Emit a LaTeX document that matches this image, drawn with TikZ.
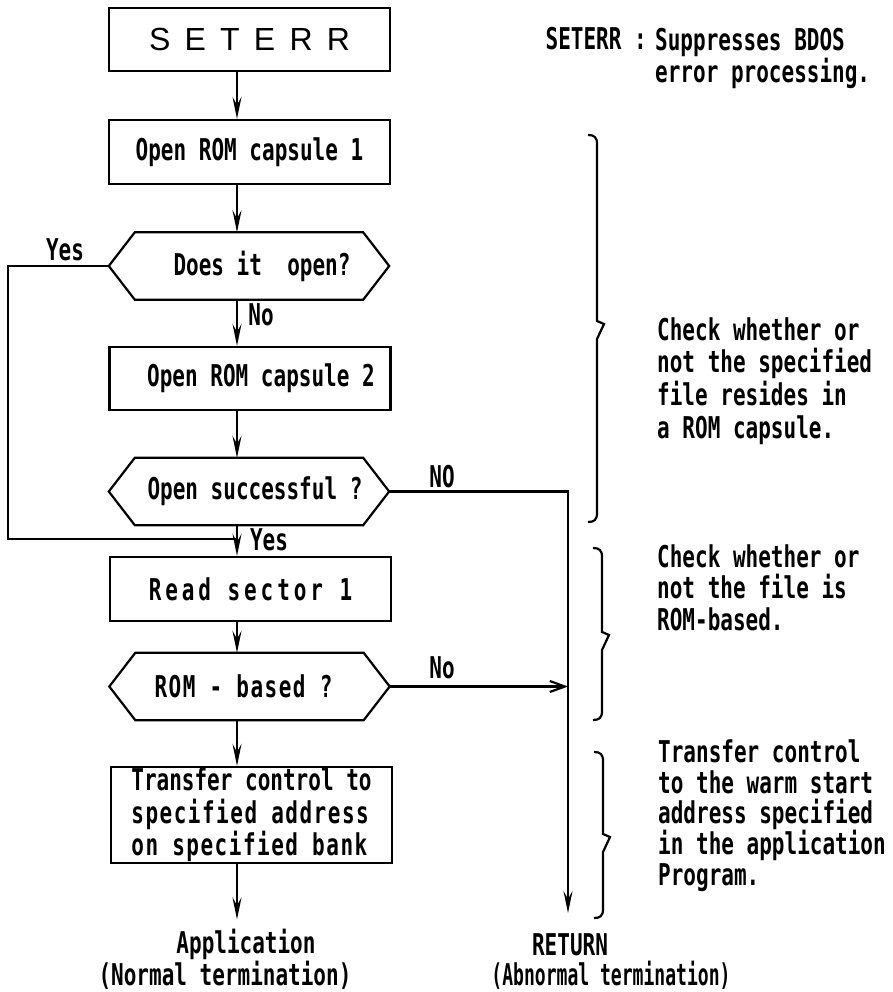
\documentclass[tikz,border=0pt]{standalone}
\usepackage{fontspec}
\usepackage{graphicx}
\usetikzlibrary{arrows.meta}
% narrow typewriter-like face for the flowchart text
\newfontfamily\tw{DejaVu Sans Mono}[FakeStretch=0.70]
\newfontfamily\titleface{Liberation Sans}[WordSpace=1.6]
\newcommand\bodyfont{\tw\bfseries\fontsize{30}{32}\selectfont}
\newcommand\topstrut{\rule{0pt}{23.5pt}}
% right-hand curly brace: x, top, tip, bottom
\newcommand\curly[4]{%
  \draw[line] (#1-9,#2) .. controls (#1-3,#2) and (#1,#2+2) .. (#1,#2+9)
    -- (#1,#3-3) -- (#1+7,#3) -- (#1,#3+15)
    -- (#1,#4-9) .. controls (#1,#4-2) and (#1-3,#4) .. (#1-9,#4);}
\tikzset{
  line/.style={line width=2.2pt},
  box/.style={draw, line, minimum width=281pt, inner sep=0pt, font=\bodyfont},
  hex/.style={minimum width=280pt, minimum height=67pt, inner sep=0pt, font=\bodyfont},
  arr/.style={line, -{Stealth[length=22pt,width=9pt,inset=8pt]}},
  barb/.style={line, -{Straight Barb[length=15pt,width=11pt,line width=2.2pt]}},
  lbl/.style={font=\bodyfont, inner sep=0pt},
  note/.style={font=\bodyfont, inner sep=0pt, align=left, anchor=north west},
}
\begin{document}
\begin{tikzpicture}[x=1pt,y=-1pt]
\useasboundingbox (0,0) rectangle (893,992);
\coordinate (ax) at (237,0);

% process boxes and decisions
\node[box, minimum height=63pt, font=\titleface\fontsize{32}{36}\selectfont] (top) at (249.5,39.5) {S E T E R R};
\node[box, minimum height=64pt] (b1) at (249.5,152) {Open ROM capsule 1};
\node[hex] (d1) at (249,266) {\hspace*{26pt}Does it~ open?};
\node[box, minimum height=63pt] (b2) at (250,378.5) {\hspace*{22pt}Open ROM capsule 2};
\node[hex] (d2) at (249,491.5) {\hspace*{12pt}Open successful ?};
\node[box, minimum height=64pt] (b3) at (250.5,589) {\addfontfeature{LetterSpace=13}Read sector 1};
\node[hex] (d3) at (249.5,686.5) {\hspace*{-12pt}\addfontfeature{LetterSpace=5}ROM - based ?};
\node[box, minimum height=96pt, align=left, font=\tw\bfseries\fontsize{30}{32.5}\selectfont] (b4) at (251.5,815)
  {Transfer control to\\{\addfontfeature{LetterSpace=5}specified address}\\{\addfontfeature{LetterSpace=5}on specified bank}};

% hexagon outlines of the decisions
\foreach \n in {d1,d2,d3}
  \draw[line] (\n.west) -- ([xshift=26pt]\n.north west) -- ([xshift=-26pt]\n.north east)
    -- (\n.east) -- ([xshift=-26pt]\n.south east) -- ([xshift=26pt]\n.south west) -- cycle;

% terminal texts
\node[lbl, anchor=base] (app) at (246,953) {Application};
\node[lbl, anchor=base] (norm) at (225,985) {(Normal termination)};
\node[lbl, anchor=base] (ret) at (570,955) {RETURN};
\node[lbl, anchor=base] (abn) at (611,985) {\scalebox{0.86}[1]{(Abnormal termination)}};

% main flow
\draw[arr] (top.south -| ax) -- (b1.north -| ax);
\draw[arr] (b1.south -| ax) -- (d1.north -| ax);
\draw[arr] (d1.south -| ax) -- (b2.north -| ax);
\draw[arr] (b2.south -| ax) -- (d2.north -| ax);
\draw[arr] (d2.south -| ax) -- (b3.north -| ax);
\draw[arr] (b3.south -| ax) -- (d3.north -| ax);
\draw[arr] (d3.south -| ax) -- (b4.north -| ax);
\draw[arr, shorten >=9pt] (b4.south -| ax) -- (app.north -| ax);

% "Yes" bypass from the first decision
\coordinate (loopc) at (8,539);
\coordinate (join) at (237,539);
\draw[line] (d1.west) -| (loopc) -- (join);

% abnormal exits
\coordinate (retend) at (568,913);
\draw[arr] (d2.east) -| (retend);
\draw[barb] (d3.east) -- (d3.east -| retend);

% branch labels
\node[lbl, anchor=base] (y1) at (65,260) {Yes};
\node[lbl, anchor=base] (n1) at (261,325) {No};
\node[lbl, anchor=base] (n2) at (442,487) {NO};
\node[lbl, anchor=base] (y2) at (269,550) {Yes};
\node[lbl, anchor=base] (n3) at (442,678) {No};

% notes on the right
\node[lbl, anchor=base east] (sk) at (647,50) {SETERR :};
\node[note] (sd) at (655,26.5) {\topstrut Suppresses BDOS\\error processing.};
\curly{597}{135}{324}{522}
\node[note, font=\tw\bfseries\fontsize{30}{32.7}\selectfont] (c1) at (657,316.5)
  {\topstrut Check whether or\\not the specified\\file resides in\\a ROM capsule.};
\curly{602}{548}{635}{720}
\node[note, font=\tw\bfseries\fontsize{30}{31.5}\selectfont] (c2) at (657,543.5)
  {\topstrut Check whether or\\not the file is\\ROM-based.};
\curly{603}{752}{837}{918}
\node[note, font=\tw\bfseries\fontsize{30}{30.8}\selectfont] (c3) at (658,738.5)
  {\topstrut Transfer control\\to the warm start\\address specified\\in the application\\Program.};
\end{tikzpicture}
\end{document}
